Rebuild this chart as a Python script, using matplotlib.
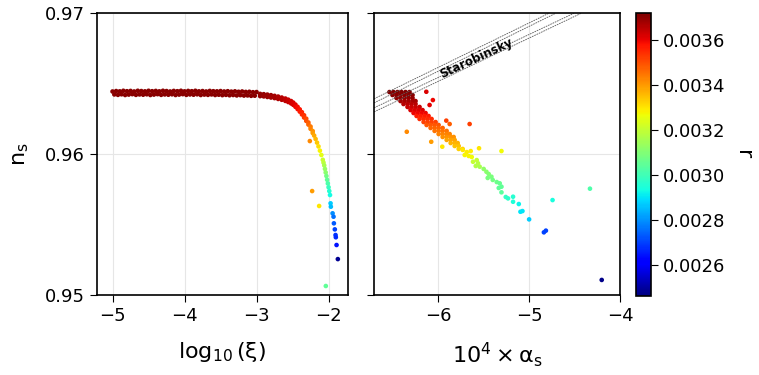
import matplotlib
matplotlib.use("Agg")
import matplotlib.pyplot as plt
import numpy as np

plt.rcParams['font.family'] = ['DejaVu Sans']
plt.rcParams['mathtext.default'] = 'regular'

# ---- left panel: n_s vs log10(xi) ----
# flat part of the band (two rows give it its thickness)
flat_xi_a = [-5.00, -4.95, -4.90, -4.85, -4.80, -4.75, -4.70, -4.65, -4.60, -4.55,
             -4.50, -4.45, -4.40, -4.35, -4.30, -4.25, -4.20, -4.15, -4.10, -4.05,
             -4.00, -3.95, -3.90, -3.85, -3.80, -3.75, -3.70, -3.65, -3.60, -3.55,
             -3.50, -3.45, -3.40, -3.35, -3.30, -3.25, -3.20, -3.15, -3.10, -3.05, -3.00]
flat_ns_a = [0.96445, 0.96448, 0.96446, 0.96450, 0.96447, 0.96449, 0.96445, 0.96450, 0.96448, 0.96446,
             0.96450, 0.96447, 0.96449, 0.96446, 0.96450, 0.96448, 0.96445, 0.96449, 0.96447, 0.96450,
             0.96446, 0.96449, 0.96447, 0.96450, 0.96446, 0.96448, 0.96445, 0.96449, 0.96447, 0.96446,
             0.96448, 0.96445, 0.96447, 0.96444, 0.96446, 0.96443, 0.96445, 0.96442, 0.96443, 0.96440, 0.96441]
flat_xi_b = [-4.975, -4.925, -4.875, -4.825, -4.775, -4.725, -4.675, -4.625, -4.575, -4.525,
             -4.475, -4.425, -4.375, -4.325, -4.275, -4.225, -4.175, -4.125, -4.075, -4.025,
             -3.975, -3.925, -3.875, -3.825, -3.775, -3.725, -3.675, -3.625, -3.575, -3.525,
             -3.475, -3.425, -3.375, -3.325, -3.275, -3.225, -3.175, -3.125, -3.075, -3.025]
flat_ns_b = [0.96424, 0.96421, 0.96425, 0.96420, 0.96423, 0.96426, 0.96421, 0.96424, 0.96422, 0.96425,
             0.96420, 0.96423, 0.96426, 0.96421, 0.96424, 0.96422, 0.96425, 0.96420, 0.96423, 0.96426,
             0.96421, 0.96424, 0.96422, 0.96425, 0.96420, 0.96423, 0.96421, 0.96424, 0.96420, 0.96422,
             0.96419, 0.96421, 0.96418, 0.96420, 0.96417, 0.96419, 0.96416, 0.96417, 0.96414, 0.96415]
flat_r = 0.00371

# bending part of the curve and the scattered points
curve_xi = [-2.95, -2.95, -2.90, -2.90, -2.85, -2.85, -2.80, -2.80, -2.75, -2.75,
            -2.70, -2.70, -2.65, -2.65, -2.60, -2.60, -2.56, -2.56, -2.52, -2.52,
            -2.49, -2.49, -2.46, -2.46, -2.43, -2.43, -2.40, -2.40, -2.37, -2.37,
            -2.34, -2.34, -2.31, -2.31, -2.28, -2.28, -2.25, -2.25, -2.22, -2.22,
            -2.20, -2.18, -2.16, -2.14, -2.12, -2.10, -2.08, -2.07, -2.06, -2.05,
            -2.04, -2.03, -2.02, -2.01, -2.00, -1.99, -1.98,
            -1.972, -1.968, -1.944, -1.931, -1.926, -1.913, -1.903, -1.899, -1.889, -1.871,
            -2.260, -2.228, -2.131, -2.038]
curve_ns = [0.96428, 0.96412, 0.96426, 0.96410, 0.96423, 0.96406, 0.96419, 0.96402, 0.96414, 0.96398,
            0.96409, 0.96392, 0.96402, 0.96386, 0.96395, 0.96378, 0.96387, 0.96370, 0.96377, 0.96360,
            0.96366, 0.96350, 0.96352, 0.96336, 0.96336, 0.96320, 0.96318, 0.96302, 0.96298, 0.96282,
            0.96276, 0.96260, 0.96252, 0.96236, 0.96225, 0.96210, 0.96196, 0.96180, 0.96164, 0.96150,
            0.96132, 0.96108, 0.96082, 0.96055, 0.96025, 0.95994, 0.95960, 0.95940, 0.95920, 0.95895,
            0.95870, 0.95845, 0.95818, 0.95792, 0.95765, 0.95738, 0.95710,
            0.95651, 0.95627, 0.95580, 0.95556, 0.95509, 0.95466, 0.95426, 0.95410, 0.95355, 0.95255,
            0.96093, 0.95738, 0.95632, 0.95064]
curve_r = [0.00370, 0.00370, 0.00370, 0.00369, 0.00369, 0.00369, 0.00369, 0.00368, 0.00368, 0.00368,
           0.00367, 0.00367, 0.00366, 0.00366, 0.00365, 0.00365, 0.00364, 0.00364, 0.00363, 0.00363,
           0.00362, 0.00362, 0.00361, 0.00360, 0.00359, 0.00359, 0.00358, 0.00357, 0.00356, 0.00355,
           0.00354, 0.00353, 0.00351, 0.00350, 0.00348, 0.00347, 0.00344, 0.00343, 0.00341, 0.00340,
           0.00338, 0.00336, 0.00334, 0.00331, 0.00328, 0.00325, 0.00321, 0.00319, 0.00316, 0.00313,
           0.00311, 0.00308, 0.00305, 0.00302, 0.00299, 0.00296, 0.00293,
           0.00287, 0.00285, 0.00279, 0.00276, 0.00273, 0.00270, 0.00268, 0.00267, 0.00264, 0.00248,
           0.00342, 0.00340, 0.00330, 0.00305]

# ---- right panel: n_s vs 10^4 alpha_s ----
right_alpha = [-6.531, -6.487, -6.443, -6.399, -6.355, -6.311,
               -6.498, -6.454, -6.410, -6.366, -6.322, -6.278,
               -6.454, -6.410, -6.366, -6.322, -6.278,
               -6.410, -6.366, -6.322, -6.278, -6.245,
               -6.377, -6.333, -6.289, -6.245,
               -6.333, -6.289, -6.245, -6.201,
               -6.300, -6.256, -6.212, -6.168,
               -6.267, -6.223, -6.179, -6.135,
               -6.234, -6.190, -6.146, -6.102,
               -6.201, -6.157, -6.113, -6.069,
               -6.157, -6.113, -6.069, -6.025,
               -6.124, -6.080, -6.036, -5.992,
               -6.080, -6.036, -5.992, -5.948,
               -6.036, -5.992, -5.948, -5.904,
               -5.992, -5.948, -5.904, -5.871,
               -5.948, -5.904, -5.860, -5.827,
               -5.904, -5.860, -5.816,
               -5.860, -5.816, -5.783,
               -5.816, -5.772,
               -5.772, -5.728,
               -5.728, -5.684, -5.640, -5.706, -5.662, -5.629,
               -5.615, -5.574, -5.560, -5.542, -5.585,
               -5.498, -5.468, -5.443, -5.413, -5.454, -5.399,
               -5.355, -5.322, -5.303, -5.333, -5.303,
               -5.256, -5.231, -5.176, -5.176, -5.113,
               -5.095, -5.073, -5.000, -4.838, -4.816,
               -4.743, -4.333, -4.204,
               -5.952, -5.549, -5.303, -6.073, -6.341,
               -6.127, -6.055, -6.091, -5.908, -5.871, -5.652]
right_ns = [0.96441, 0.96441, 0.96441, 0.96441, 0.96441, 0.96441,
            0.96420, 0.96420, 0.96420, 0.96420, 0.96420, 0.96420,
            0.96399, 0.96399, 0.96399, 0.96399, 0.96399,
            0.96377, 0.96377, 0.96377, 0.96377, 0.96377,
            0.96356, 0.96356, 0.96356, 0.96356,
            0.96335, 0.96335, 0.96335, 0.96335,
            0.96313, 0.96313, 0.96313, 0.96313,
            0.96292, 0.96292, 0.96292, 0.96292,
            0.96271, 0.96271, 0.96271, 0.96271,
            0.96250, 0.96250, 0.96250, 0.96250,
            0.96228, 0.96228, 0.96228, 0.96228,
            0.96207, 0.96207, 0.96207, 0.96207,
            0.96186, 0.96186, 0.96186, 0.96186,
            0.96165, 0.96165, 0.96165, 0.96165,
            0.96143, 0.96143, 0.96143, 0.96143,
            0.96122, 0.96122, 0.96122, 0.96122,
            0.96101, 0.96101, 0.96101,
            0.96079, 0.96079, 0.96079,
            0.96058, 0.96058,
            0.96037, 0.96037,
            0.96030, 0.96015, 0.96022, 0.95994, 0.95987, 0.95980,
            0.95946, 0.95958, 0.95935, 0.95911, 0.95916,
            0.95895, 0.95875, 0.95859, 0.95840, 0.95831, 0.95817,
            0.95802, 0.95793, 0.95769, 0.95760, 0.95729,
            0.95696, 0.95686, 0.95698, 0.95662, 0.95646,
            0.95591, 0.95596, 0.95537, 0.95445, 0.95457,
            0.95674, 0.95755, 0.95107,
            0.96053, 0.96042, 0.96022, 0.96088, 0.96159,
            0.96443, 0.96384, 0.96349, 0.96238, 0.96214, 0.96214]
right_r = [0.00372, 0.00372, 0.00372, 0.00372, 0.00372, 0.00372,
           0.00371, 0.00371, 0.00371, 0.00371, 0.00371, 0.00371,
           0.00370, 0.00370, 0.00370, 0.00370, 0.00370,
           0.00368, 0.00368, 0.00368, 0.00368, 0.00368,
           0.00366, 0.00366, 0.00366, 0.00366,
           0.00364, 0.00364, 0.00364, 0.00364,
           0.00362, 0.00362, 0.00362, 0.00362,
           0.00360, 0.00360, 0.00360, 0.00360,
           0.00357, 0.00357, 0.00357, 0.00357,
           0.00355, 0.00355, 0.00355, 0.00355,
           0.00352, 0.00352, 0.00352, 0.00352,
           0.00349, 0.00349, 0.00349, 0.00349,
           0.00347, 0.00347, 0.00347, 0.00347,
           0.00345, 0.00345, 0.00345, 0.00345,
           0.00343, 0.00343, 0.00343, 0.00343,
           0.00341, 0.00341, 0.00341, 0.00341,
           0.00339, 0.00339, 0.00339,
           0.00337, 0.00337, 0.00337,
           0.00335, 0.00335,
           0.00333, 0.00333,
           0.00330, 0.00329, 0.00329, 0.00328, 0.00328, 0.00327,
           0.00320, 0.00320, 0.00318, 0.00316, 0.00317,
           0.00312, 0.00311, 0.00310, 0.00309, 0.00309, 0.00308,
           0.00307, 0.00306, 0.00305, 0.00305, 0.00304,
           0.00298, 0.00297, 0.00296, 0.00295, 0.00292,
           0.00290, 0.00290, 0.00287, 0.00270, 0.00270,
           0.00294, 0.00302, 0.00247,
           0.00330, 0.00330, 0.00327, 0.00340, 0.00342,
           0.00362, 0.00360, 0.00361, 0.00352, 0.00348, 0.00352]

# Starobinsky band: four dashed lines (start / end points)
staro_alpha = [[-6.70, -4.785], [-6.70, -4.71], [-6.70, -4.51], [-6.70, -4.43]]
staro_ns = [[0.96393, 0.97], [0.96364, 0.97], [0.96329, 0.97], [0.96300, 0.97]]

r_min, r_max = 0.00246, 0.00372
cb_ticks = [0.0026, 0.0028, 0.0030, 0.0032, 0.0034, 0.0036]

fig = plt.figure(figsize=(7.59, 3.75), dpi=100)
ax1 = fig.add_axes([0.1274, 0.2133, 0.3311, 0.7512])
ax2 = fig.add_axes([0.4928, 0.2133, 0.3245, 0.7512])
cax = fig.add_axes([0.838, 0.2107, 0.0198, 0.7538])

norm = plt.Normalize(r_min, r_max)
cmap = plt.cm.jet
ms = 11

ax1.scatter(flat_xi_a, flat_ns_a, c=[flat_r] * len(flat_xi_a), cmap=cmap, norm=norm, s=ms, lw=0)
ax1.scatter(flat_xi_b, flat_ns_b, c=[flat_r] * len(flat_xi_b), cmap=cmap, norm=norm, s=ms, lw=0)
ax1.scatter(curve_xi, curve_ns, c=curve_r, cmap=cmap, norm=norm, s=ms, lw=0)

sc = ax2.scatter(right_alpha, right_ns, c=right_r, cmap=cmap, norm=norm, s=ms, lw=0)
for xs, ys in zip(staro_alpha, staro_ns):
    ax2.plot(xs, ys, ls='--', color='0.35', lw=0.6, dashes=(2, 1), zorder=1)
ax2.text(-5.58, 0.96680, 'Starobinsky', rotation=25, fontsize=8.5, fontweight='bold',
         ha='center', va='center')

for ax in (ax1, ax2):
    ax.set_ylim(0.95, 0.97)
    ax.set_yticks([0.95, 0.96, 0.97])
    ax.grid(True, color='#e6e6e6', lw=0.8)
    ax.set_axisbelow(True)
    ax.tick_params(labelsize=13, length=5)
    for sp in ax.spines.values():
        sp.set_linewidth(1.2)

ax1.set_xlim(-5.22, -1.73)
ax1.set_xticks([-5, -4, -3, -2])
ax1.set_yticklabels(['0.95', '0.96', '0.97'])
ax1.set_xlabel(r'$log_{10}\,(\xi)$', fontsize=16, labelpad=11)
ax1.set_ylabel(r'$n_s$', fontsize=16, labelpad=10)

ax2.set_xlim(-6.7, -4.0)
ax2.set_xticks([-6, -5, -4])
ax2.set_yticklabels([])
ax2.set_xlabel(r'$10^4\times\alpha_s$', fontsize=16, labelpad=11)

cb = fig.colorbar(sc, cax=cax, ticks=cb_ticks)
cb.ax.set_yticklabels(['%.4f' % t for t in cb_ticks])
cb.ax.tick_params(labelsize=13, length=5)
cb.outline.set_linewidth(1.2)
cb.set_label('r', rotation=270, fontsize=16, labelpad=20)

fig.savefig('out.png', dpi=100)
